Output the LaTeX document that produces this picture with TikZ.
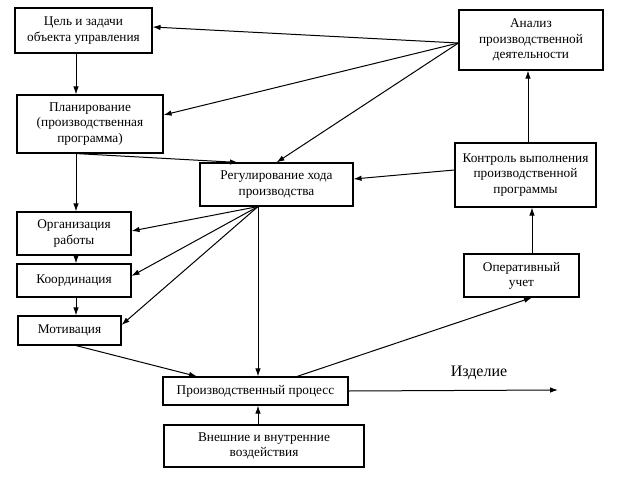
\documentclass[tikz,border=0pt]{standalone}
\usepackage{fontspec}
\setmainfont{Liberation Serif}
\usetikzlibrary{arrows.meta,calc}
\begin{document}
\begin{tikzpicture}[x=1pt,y=-1pt,
  box/.style={draw,line width=1.1pt,align=center,inner sep=0pt,font=\fontsize{13.3}{15.2}\selectfont},
  arr/.style={line width=1pt,-{Latex[length=8pt,width=5.5pt]}}]
\useasboundingbox (0,0) rectangle (623,484);
\node[box,minimum width=137pt,minimum height=45pt] (goal) at (83.5,30.5) {Цель и задачи\\объекта управления};
\node[box,minimum width=146pt,minimum height=58pt] (plan) at (90,124) {Планирование\\(производственная\\программа)};
\node[box,minimum width=153pt,minimum height=43pt] (reg) at (276.5,184.5) {Регулирование хода\\производства};
\node[box,minimum width=144pt,minimum height=60pt] (an) at (531,40) {Анализ\\производственной\\деятельности};
\node[box,minimum width=141pt,minimum height=64pt] (ctl) at (525.5,175) {Контроль выполнения\\производственной\\программы};
\node[box,minimum width=115pt,minimum height=43pt] (op) at (521.5,275.5) {Оперативный\\учет};
\node[box,minimum width=114pt,minimum height=43pt] (org) at (74,233.5) {Организация\\работы};
\node[box,minimum width=114pt,minimum height=33pt] (crd) at (74,280.5) {Координация};
\node[box,minimum width=103pt,minimum height=29pt] (mot) at (69.5,330.5) {Мотивация};
\node[box,minimum width=185pt,minimum height=28pt] (proc) at (255.5,391) {Производственный процесс};
\node[box,minimum width=200pt,minimum height=42pt] (ext) at (264,446) {Внешние и внутренние\\воздействия};
\node[font=\fontsize{16}{18}\selectfont] (prod) at (479,373) {Изделие};
\coordinate (spine) at (76,0);
\coordinate (out) at (558,390);
\coordinate (a0) at ([yshift=-3pt]an.west);
\coordinate (r0) at ([xshift=-18.5pt]reg.south);
% from analysis
\draw[arr] (a0) -- ([yshift=3.5pt]goal.east);
\draw[arr] (a0) -- ([yshift=9pt]plan.east);
\draw[arr] (a0) -- (reg.north);
% left spine
\draw[arr] (goal.south -| spine) -- (plan.north -| spine);
\draw[arr] (plan.south -| spine) -- (org.north -| spine);
\draw[arr] (org.south -| spine) -- (crd.north -| spine);
\draw[arr] (crd.south -| spine) -- (mot.north -| spine);
\draw[arr] (plan.south -| spine) -- ([xshift=-38.5pt]reg.north);
% from regulation
\draw[arr] (r0) -- ([yshift=2.5pt]org.east);
\draw[arr] (r0) -- ([yshift=4.5pt]crd.east);
\draw[arr] (r0) -- ([yshift=5.5pt]mot.east);
\draw[arr] (r0) -- (r0 |- proc.north);
% to process
\draw[arr] (mot.south -| spine) -- ([xshift=-58.5pt]proc.north);
\draw[arr] (ext.north -| r0) -- (proc.south -| r0);
\draw[arr] ([xshift=41.5pt]proc.north) -- ([xshift=10.5pt]op.south);
\draw[arr] (proc.east) -- (out);
% right column
\draw[arr] ([xshift=10.5pt]op.north) -- ([xshift=10.5pt]op.north |- ctl.south);
\draw[arr] ([xshift=2.5pt]ctl.north) -- ([xshift=2.5pt]ctl.north |- an.south);
\draw[arr] ([yshift=5pt]ctl.west) -- ([yshift=5.5pt]reg.east);
\end{tikzpicture}
\end{document}
